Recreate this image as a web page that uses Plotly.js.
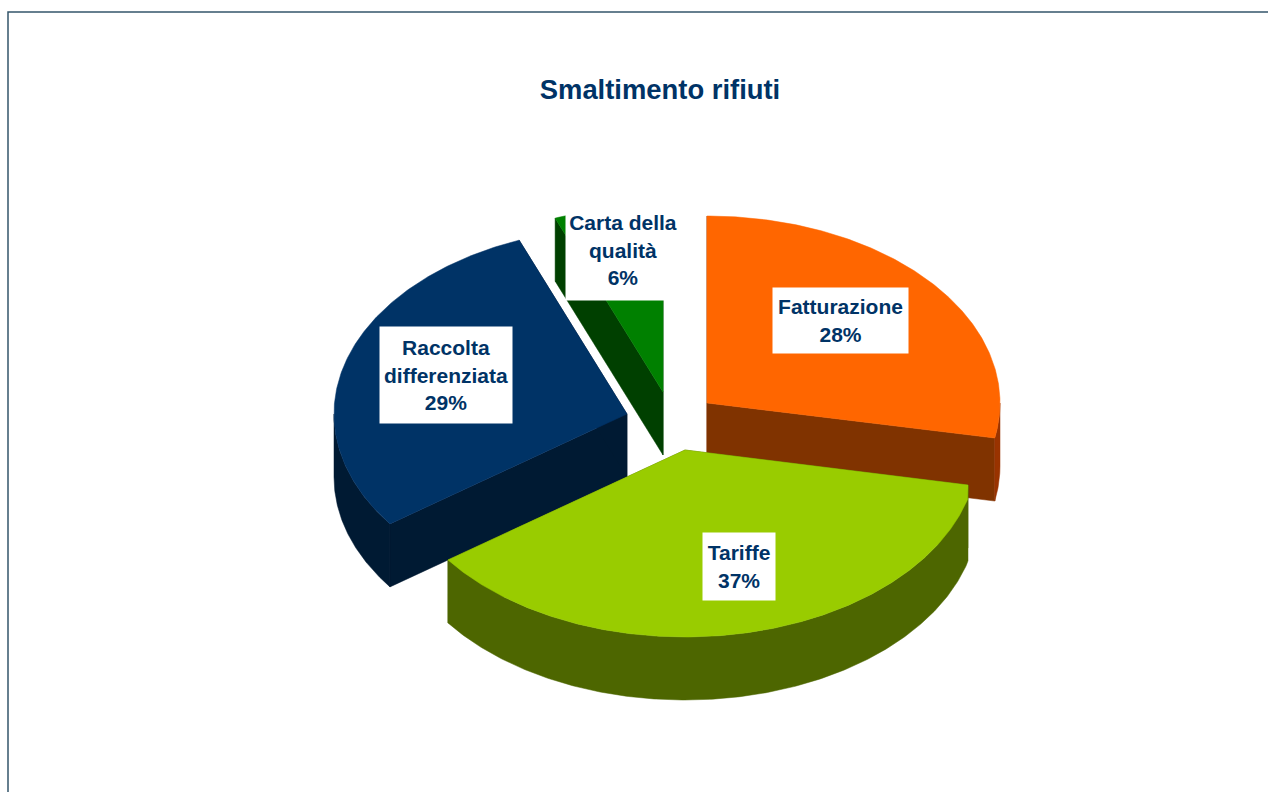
<!DOCTYPE html>
<html>
<head>
<meta charset="utf-8">
<script src="https://cdn.plot.ly/plotly-3.0.1.min.js"></script>
<style>html,body{margin:0;padding:0;background:#fff;overflow:hidden}</style>
</head>
<body>
<div id="chart" style="width:1268px;height:792px"></div>
<script>
// Data
const categories = ['Fatturazione', 'Tariffe', 'Raccolta differenziata', 'Carta della qualità'];
const labelLines = ['Fatturazione', 'Tariffe', 'Raccolta<br>differenziata', 'Carta della<br>qualità'];
const values = [28, 37, 29, 6];

// Style
const topColors = ['#ff6600', '#99cc00', '#003366', '#008000'];
const wallColors = ['#803300', '#4d6600', '#001a33', '#004000'];
const rimColors = ['#993300', '#4d6600', '#001a33', '#004000'];
const textColor = '#003366';
const labelFont = {family: 'Liberation Sans, Arial, sans-serif', size: 21, color: textColor, weight: 700};

// Projected pie geometry (axis units)
const rx = 293, ry = 187, depth = 63;
const sliceCentres = [[707, 403], [685, 450], [627, 414], [663, 392]];
const sliceMaxX = [1000, 968, 1000, 1000];
const labelBoxes = [[840.5, 320.5, 135, 65], [739, 566.5, 72, 67], [446, 375, 132, 96], [623, 250, 114, 100]];
const drawOrder = [3, 2, 0, 1];

const total = values.reduce((a, b) => a + b, 0);
let acc = 0;
const spans = values.map(v => { const s = [acc, acc + v / total * 360]; acc = s[1]; return s; });

const rad = d => d * Math.PI / 180;
const pt = (c, t, dy) => [c[0] + rx * Math.sin(rad(t)), c[1] - ry * Math.cos(rad(t)) + (dy || 0)];
function arc(c, a, b, dy) {
  const out = [], n = Math.max(2, Math.ceil(Math.abs(b - a) * 2));
  for (let i = 0; i <= n; i++) out.push(pt(c, a + (b - a) * i / n, dy));
  return out;
}
function poly(points, color, name, maxX) {
  const closed = points.concat([points[0]]);
  return {
    type: 'scatter', mode: 'lines', name: name,
    x: closed.map(p => Math.min(p[0], maxX)), y: closed.map(p => p[1]),
    fill: 'toself', fillcolor: color, line: {width: 0.5, color: color},
    hoverinfo: 'name', showlegend: false
  };
}

const traces = [];
drawOrder.forEach(i => {
  const c = sliceCentres[i], s = spans[i], m = sliceMaxX[i];
  const from = Math.max(s[0], 90), to = Math.min(s[1], 270);
  // radial walls
  s.forEach(t => {
    const e = pt(c, t);
    traces.push(poly([c, e, [e[0], e[1] + depth], [c[0], c[1] + depth]], wallColors[i], categories[i], m));
  });
  // outer rim, only on the side turned to the viewer
  if (to > from) {
    traces.push(poly(arc(c, from, to, 0).concat(arc(c, to, from, depth)), rimColors[i], categories[i], m));
  }
  // top face
  traces.push(poly([c].concat(arc(c, s[0], s[1], 0)), topColors[i], categories[i], m));
});

const annotations = categories.map((cat, i) => ({
  xref: 'x', yref: 'y', x: labelBoxes[i][0], y: labelBoxes[i][1],
  width: labelBoxes[i][2], height: labelBoxes[i][3],
  xanchor: 'center', yanchor: 'middle', align: 'center', valign: 'middle',
  text: labelLines[i] + '<br>' + values[i] + '%',
  showarrow: false, bgcolor: '#ffffff', borderpad: 0, font: labelFont
}));

const layout = {
  width: 1268, height: 792, autosize: false,
  margin: {l: 0, r: 0, t: 0, b: 0},
  paper_bgcolor: '#ffffff', plot_bgcolor: '#ffffff',
  title: {
    text: '<b>Smaltimento rifiuti</b>', x: 660 / 1268, y: 1 - 89 / 792,
    xanchor: 'center', yanchor: 'middle',
    font: {family: 'Liberation Sans, Arial, sans-serif', size: 27.4, color: textColor}
  },
  xaxis: {range: [0, 1268], visible: false, fixedrange: true},
  yaxis: {range: [792, 0], visible: false, fixedrange: true},
  showlegend: false,
  annotations: annotations,
  shapes: [{type: 'path', xref: 'x', yref: 'y', path: 'M8,792 L8,12 L1268,12', line: {color: '#34566b', width: 1.5}}]
};

Plotly.newPlot('chart', traces, layout, {displayModeBar: false, staticPlot: true});
</script>
</body>
</html>
